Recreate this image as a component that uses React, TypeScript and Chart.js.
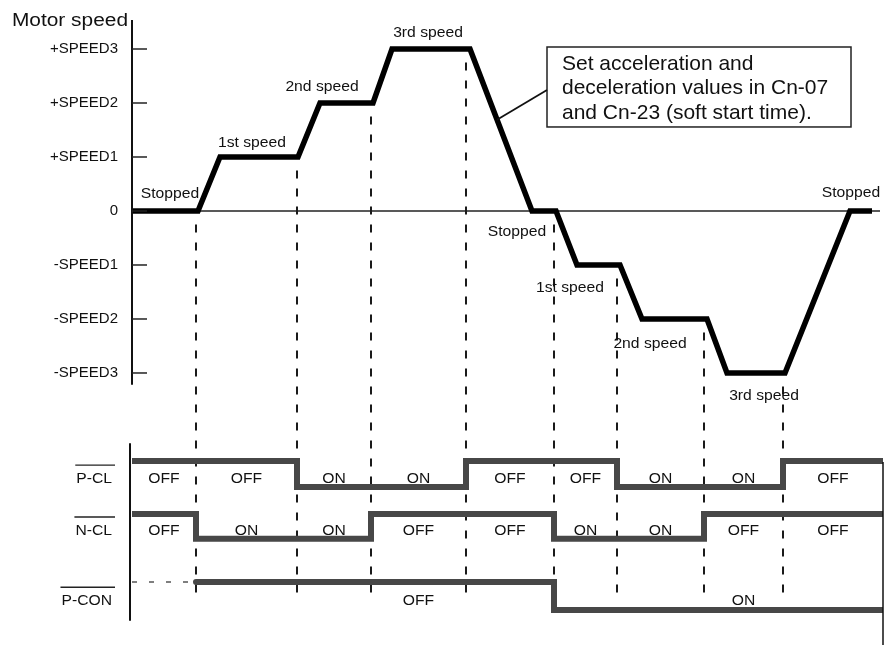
import React, { useEffect, useRef } from 'react';
import { Chart, registerables } from 'chart.js';

Chart.register(...registerables);

// ---------------- data ----------------
const SPEED_TICKS = [3, 2, 1, 0, -1, -2, -3];
const SPEED_TICK_LABELS = ['+SPEED3', '+SPEED2', '+SPEED1', '0', '-SPEED1', '-SPEED2', '-SPEED3'];

// motor speed profile (time units, speed level)
const SPEED_TIME = [0, 66, 88, 166, 188, 241, 260, 338, 400, 424, 445, 488, 510, 575, 595, 653, 718, 740];
const SPEED_VALUE = [0, 0, 1, 1, 2, 2, 3, 3, 0, 0, -1, -1, -2, -2, -3, -3, 0, 0];

// command switching instants
const EVENT_TIMES = [0, 64, 165, 239, 334, 422, 485, 572, 651, 751];
const PCL_STATES = ['OFF', 'OFF', 'ON', 'ON', 'OFF', 'OFF', 'ON', 'ON', 'OFF'];
const NCL_STATES = ['OFF', 'ON', 'ON', 'OFF', 'OFF', 'ON', 'ON', 'OFF', 'OFF'];
const PCON_STATES = [null, 'OFF', 'OFF', 'OFF', 'OFF', 'ON', 'ON', 'ON', 'ON'];
const PCON_LABELED = [false, false, false, true, false, false, false, true, false];

const SPEED_NOTES = ['Stopped', '1st speed', '2nd speed', '3rd speed', 'Stopped', '1st speed', '2nd speed', '3rd speed', 'Stopped'];
const NOTE_LINES = ['Set acceleration and', 'deceleration values in Cn-07', 'and Cn-23 (soft start time).'];
const SIGNAL_NAMES = ['P-CL', 'N-CL', 'P-CON'];
const Y_TITLE = 'Motor speed';

// ---------------- layout (not data) ----------------
const FONT = '"Liberation Sans", Arial, Helvetica, sans-serif';
const ROWS = [
  { hi: -4.63, lo: -5.11, text: -5.04 },
  { hi: -5.61, lo: -6.07, text: -6.0 },
  { hi: -6.87, lo: -7.39, text: -7.3 },
];
const NOTE_ANCHORS = [
  [38, 0.24], [120, 1.185], [190, 2.22], [296, 3.22],
  [385, -0.46], [438, -1.5], [518, -2.54], [632, -3.5], [719, 0.26],
];
const LAYOUT = {
  axisTop: 3.537, axisBottom: -3.22,
  lowAxisTop: -4.3, lowAxisBottom: -7.59,
  rightLineTop: -4.65, rightLineBottom: -8.04,
  dashBottom: -7.2, dashGap: 0.25,
  tickLen: 15,
  titleX: -4, titleY: 3.426,
  nameX: -20,
  box: { l: 415, r: 719, t: 3.037, b: 1.556 },
  boxTextX: 430, boxLineY: [2.61, 2.165, 1.70],
  leader: { x1: 365, y1: 1.69, x2: 415, y2: 2.24 },
  zeroEnd: 748,
};

function speedAt(t: number) {
  for (let i = 0; i < SPEED_TIME.length - 1; i++) {
    const a = SPEED_TIME[i], b = SPEED_TIME[i + 1];
    if (t >= a && t <= b) {
      const f = b === a ? 0 : (t - a) / (b - a);
      return SPEED_VALUE[i] + f * (SPEED_VALUE[i + 1] - SPEED_VALUE[i]);
    }
  }
  return 0;
}

function stepData(states: (string | null)[], row: { hi: number; lo: number }) {
  const pts: { x: number; y: number }[] = [];
  states.forEach((s, i) => {
    if (s == null) return;
    const y = s === 'OFF' ? row.hi : row.lo;
    pts.push({ x: EVENT_TIMES[i], y }, { x: EVENT_TIMES[i + 1], y });
  });
  return pts;
}

function drawText(ctx: CanvasRenderingContext2D, s: string, px: number, py: number, size: number, align: CanvasTextAlign, sx = 1) {
  ctx.save();
  ctx.translate(px, py);
  ctx.scale(sx, 1);
  ctx.font = `${size}px ${FONT}`;
  ctx.textAlign = align;
  ctx.textBaseline = 'alphabetic';
  ctx.fillStyle = '#111';
  ctx.fillText(s, 0, 0);
  const w = ctx.measureText(s).width * sx;
  ctx.restore();
  return w;
}

function seg(ctx: CanvasRenderingContext2D, x1: number, y1: number, x2: number, y2: number, w: number, c: string) {
  ctx.beginPath();
  ctx.moveTo(x1, y1);
  ctx.lineTo(x2, y2);
  ctx.lineWidth = w;
  ctx.strokeStyle = c;
  ctx.stroke();
}

const decorPlugin = {
  id: 'decor',
  afterDraw(chart: any) {
    const { ctx } = chart;
    const xs = chart.scales.x, ys = chart.scales.y;
    const X = (v: number) => xs.getPixelForValue(v);
    const Y = (v: number) => ys.getPixelForValue(v);
    ctx.save();
    ctx.lineCap = 'butt';
    // upper axis and tick marks
    seg(ctx, X(0), Y(LAYOUT.axisTop), X(0), Y(LAYOUT.axisBottom), 2, '#111');
    SPEED_TICKS.forEach((v) => seg(ctx, X(0), Y(v), X(LAYOUT.tickLen), Y(v), 1.5, '#222'));
    // lower axis + right line
    seg(ctx, X(-2), Y(LAYOUT.lowAxisTop), X(-2), Y(LAYOUT.lowAxisBottom), 2, '#111');
    const tEnd = EVENT_TIMES[EVENT_TIMES.length - 1];
    seg(ctx, X(tEnd), Y(LAYOUT.rightLineTop), X(tEnd), Y(LAYOUT.rightLineBottom), 1.5, '#111');

    // axis title
    drawText(ctx, Y_TITLE, X(LAYOUT.titleX), Y(LAYOUT.titleY), 18, 'right', 1.16);

    // speed notes
    SPEED_NOTES.forEach((s, i) => {
      const [ax, ay] = NOTE_ANCHORS[i];
      drawText(ctx, s, X(ax), Y(ay), 14, 'center', 1.12);
    });

    // annotation box + leader
    const b = LAYOUT.box;
    ctx.lineWidth = 1.5;
    ctx.strokeStyle = '#222';
    ctx.strokeRect(X(b.l), Y(b.t), X(b.r) - X(b.l), Y(b.b) - Y(b.t));
    const ld = LAYOUT.leader;
    seg(ctx, X(ld.x1), Y(ld.y1), X(ld.x2), Y(ld.y2), 1.8, '#111');
    NOTE_LINES.forEach((s, i) => drawText(ctx, s, X(LAYOUT.boxTextX), Y(LAYOUT.boxLineY[i]), 21, 'left', 1));

    // signal names with overline
    SIGNAL_NAMES.forEach((s, i) => {
      const px = X(LAYOUT.nameX), py = Y(ROWS[i].text);
      const w = drawText(ctx, s, px, py, 14, 'right', 1.12);
      seg(ctx, px - w - 1, py - 18, px + 3, py - 18, 1.4, '#222');
    });

    // state labels
    const mids = EVENT_TIMES.slice(0, -1).map((t, i) => (t + EVENT_TIMES[i + 1]) / 2);
    PCL_STATES.forEach((s, i) => drawText(ctx, s, X(mids[i]), Y(ROWS[0].text), 14, 'center', 1.12));
    NCL_STATES.forEach((s, i) => drawText(ctx, s, X(mids[i]), Y(ROWS[1].text), 14, 'center', 1.12));
    PCON_STATES.forEach((s, i) => {
      if (s && PCON_LABELED[i]) drawText(ctx, s, X(mids[i]), Y(ROWS[2].text), 14, 'center', 1.12);
    });
    ctx.restore();
  },
};

export default function App() {
  const ref = useRef<HTMLCanvasElement | null>(null);

  useEffect(() => {
    if (!ref.current) return;

    const speedData = SPEED_TIME.map((t, i) => ({ x: t, y: SPEED_VALUE[i] }));
    const dashSets = EVENT_TIMES.slice(1, -1).map((t) => ({
      data: [
        { x: t, y: speedAt(t) - LAYOUT.dashGap },
        { x: t, y: LAYOUT.dashBottom },
      ],
      borderColor: '#1a1a1a',
      borderWidth: 2,
      borderDash: [8, 10],
      pointRadius: 0,
      order: 5,
    }));

    const sigStyle = {
      borderColor: '#474747',
      borderWidth: 6,
      pointRadius: 0,
      borderJoinStyle: 'miter' as const,
      borderCapStyle: 'round' as const,
      order: 2,
    };

    const chart = new Chart(ref.current, {
      type: 'line',
      data: {
        datasets: [
          {
            label: 'Motor speed',
            data: speedData,
            borderColor: '#000',
            borderWidth: 5.5,
            pointRadius: 0,
            borderJoinStyle: 'miter',
            borderCapStyle: 'butt',
            order: 1,
          } as any,
          { label: 'P-CL', data: stepData(PCL_STATES, ROWS[0]), ...sigStyle },
          { label: 'N-CL', data: stepData(NCL_STATES, ROWS[1]), ...sigStyle },
          { label: 'P-CON', data: stepData(PCON_STATES, ROWS[2]), ...sigStyle },
          {
            label: 'P-CON undefined',
            data: [
              { x: EVENT_TIMES[0], y: ROWS[2].hi },
              { x: EVENT_TIMES[1], y: ROWS[2].hi },
            ],
            borderColor: '#555',
            borderWidth: 1.5,
            borderDash: [5, 12],
            pointRadius: 0,
            order: 3,
          },
          ...dashSets,
          {
            label: 'zero',
            data: [
              { x: 0, y: 0 },
              { x: LAYOUT.zeroEnd, y: 0 },
            ],
            borderColor: '#222',
            borderWidth: 1.5,
            pointRadius: 0,
            order: 9,
          },
        ] as any,
      },
      options: {
        responsive: false,
        animation: false,
        events: [],
        layout: { padding: { left: 8, right: 13, top: 24, bottom: 24 } },
        plugins: { legend: { display: false }, tooltip: { enabled: false }, title: { display: false } },
        scales: {
          x: { type: 'linear', min: 0, max: 751, display: false },
          y: {
            type: 'linear',
            min: -7.593,
            max: 3.463,
            position: 'left',
            grid: { display: false, drawTicks: false },
            border: { display: false },
            afterFit: (s: any) => {
              s.width = 124;
            },
            afterBuildTicks: (s: any) => {
              s.ticks = SPEED_TICKS.map((v) => ({ value: v }));
            },
            ticks: {
              autoSkip: false,
              padding: 14,
              color: '#111',
              font: { family: FONT, size: 15 },
              callback: (v: any) => {
                const i = SPEED_TICKS.indexOf(Number(v));
                return i >= 0 ? SPEED_TICK_LABELS[i] : '';
              },
            },
          },
        },
      } as any,
      plugins: [decorPlugin],
    });

    return () => chart.destroy();
  }, []);

  return (
    <div style={{ position: 'absolute', left: 0, top: 0, width: 896, height: 645, background: '#fff' }}>
      <canvas ref={ref} width={896} height={645} style={{ width: 896, height: 645, display: 'block' }} />
    </div>
  );
}
